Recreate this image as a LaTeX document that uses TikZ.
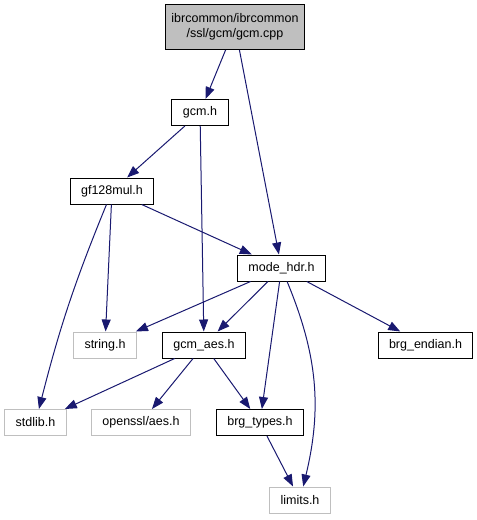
\documentclass[tikz,border=0pt]{standalone}
\usepackage{fontspec}
\setmainfont{Liberation Sans}
\usepackage{tikz}
\usetikzlibrary{arrows.meta}

\definecolor{edgeblue}{HTML}{191970}
\definecolor{sysgray}{HTML}{BFBFBF}

\begin{document}
\begin{tikzpicture}[x=1pt,y=1pt,>={Triangle[length=12pt,width=9pt]},
  hdr/.style={draw=black,line width=1pt,rectangle,minimum height=26pt,inner xsep=11pt,font=\fontsize{12.5}{15}\selectfont},
  syshdr/.style={hdr,draw=sysgray,line width=1pt},
  rootfile/.style={hdr,fill=sysgray,minimum height=45pt,align=center,inner xsep=6pt}]
  \useasboundingbox (0,0) rectangle (477,-520);
  			\node[rootfile] (gcmcpp) at (235,-27)   {ibrcommon/ibrcommon\\/ssl/gcm/gcm.cpp};
  			\node[hdr]      (gcmh)   at (200,-112.5) {gcm.h};
            \node[hdr]      (gfmul)  at (112,-191)  {gf128mul.h};
            \node[hdr]      (modehdr) at (281.5,-268) {mode\_hdr.h};
            \node[syshdr]   (stringh) at (105,-345)  {string.h};
            \node[hdr]      (gcmaes) at (204,-345)  {gcm\_aes.h};
            \node[hdr]      (endian) at (425.5,-345) {brg\_endian.h};
            \node[syshdr]   (stdlibh) at (35.5,-422.5) {stdlib.h};
            \node[syshdr]   (osslaes) at (141,-422.5) {openssl/aes.h};
            \node[hdr]      (brgtypes) at (260,-422.5) {brg\_types.h};
            \node[syshdr]   (limitsh) at (300,-500) {limits.h};


  			\path[->,draw=edgeblue,line width=1pt,color=edgeblue] 
                     (gcmcpp) edge (gcmh)
                     (gcmcpp) edge (modehdr)
                     (gcmh) edge (gfmul)
                     (gcmh) edge (gcmaes)
                     (gfmul) edge (modehdr)
                     (gfmul) edge (stringh)
                     (gfmul) edge[bend right=4] (stdlibh)
                     (modehdr) edge (stringh)
                     (modehdr) edge (gcmaes)
                     (modehdr) edge (brgtypes)
                     (modehdr) edge[bend left=18] (limitsh)
                     (modehdr) edge (endian)
                     (gcmaes) edge (stdlibh)
                     (gcmaes) edge (osslaes)
                     (gcmaes) edge (brgtypes)
                     (brgtypes) edge (limitsh);
		\end{tikzpicture}
\end{document}
